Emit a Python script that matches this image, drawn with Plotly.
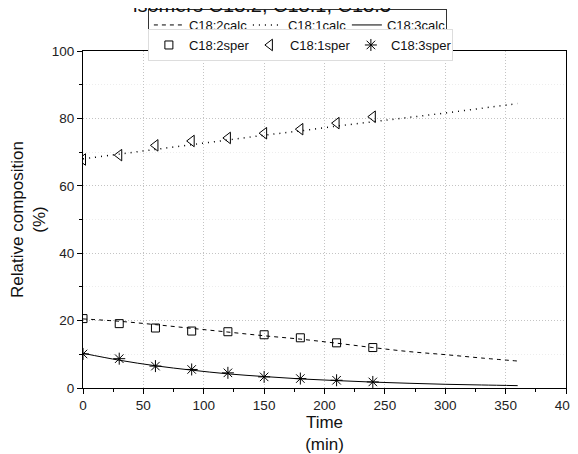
import plotly.graph_objects as go

# ---- data ----
t_exp = [0, 30, 60, 90, 120, 150, 180, 210, 240]
c182_exp = [20.6, 19.1, 17.8, 16.9, 16.7, 15.8, 14.9, 13.4, 12.0]
c181_exp = [67.8, 69.1, 72.0, 73.3, 74.2, 75.6, 76.8, 78.6, 80.5]
c183_exp = [10.1, 8.7, 6.5, 5.5, 4.5, 3.3, 2.8, 2.3, 1.8]

t_calc = [0, 30, 60, 90, 120, 150, 180, 210, 240, 270, 300, 330, 360]
c182_calc = [20.5, 19.8, 18.8, 17.7, 16.6, 15.5, 14.5, 13.3, 12.0, 10.8, 9.9, 8.9, 8.0]
c181_calc = [68.0, 69.4, 70.8, 72.2, 73.6, 75.0, 76.3, 77.7, 79.0, 80.3, 81.6, 83.0, 84.4]
c183_calc = [10.3, 8.25, 6.6, 5.3, 4.2, 3.4, 2.7, 2.2, 1.75, 1.4, 1.1, 0.9, 0.7]

x_ticks = [0, 50, 100, 150, 200, 250, 300, 350, 400]
y_ticks = [0, 20, 40, 60, 80, 100]

FONT = "Liberation Sans, Arial, sans-serif"

fig = go.Figure()

# calculated curves (legend 1)
fig.add_trace(go.Scatter(x=t_calc, y=c182_calc, mode="lines", name="C18:2calc",
                         line=dict(color="black", width=1, dash="4px,4px", shape="spline"),
                         legend="legend"))
fig.add_trace(go.Scatter(x=t_calc, y=c181_calc, mode="lines", name="C18:1calc",
                         line=dict(color="black", width=1.5, dash="1px,5px", shape="spline"),
                         legend="legend"))
fig.add_trace(go.Scatter(x=t_calc, y=c183_calc, mode="lines", name="C18:3calc",
                         line=dict(color="black", width=1, shape="spline"),
                         legend="legend"))

# experimental points (legend 2)
fig.add_trace(go.Scatter(x=t_exp, y=c182_exp, mode="markers", name="C18:2sper",
                         marker=dict(symbol="square-open", size=8, color="black",
                                     line=dict(width=1, color="black")),
                         legend="legend2"))
fig.add_trace(go.Scatter(x=t_exp, y=c181_exp, mode="markers", name="C18:1sper",
                         marker=dict(symbol="triangle-left-open", size=10, color="black",
                                     line=dict(width=1, color="black")),
                         legend="legend2"))
fig.add_trace(go.Scatter(x=t_exp, y=c183_exp, mode="markers", name="C18:3sper",
                         marker=dict(symbol="asterisk-open", size=10, color="black",
                                     line=dict(width=1, color="black")),
                         legend="legend2"))

axis_common = dict(
    showline=True, linecolor="black", linewidth=1, mirror=True,
    ticks="outside", ticklen=5, tickwidth=1, tickcolor="black",
    showgrid=True, gridcolor="#c4c4c4", griddash="1px,2px", gridwidth=1,
    zeroline=False, automargin=False,
    tickfont=dict(family=FONT, size=13.5, color="#222"),
)

fig.update_xaxes(range=[0, 400], tickvals=x_ticks,
                 minor=dict(ticks="outside", ticklen=3, tickcolor="black", dtick=25, tick0=0,
                            showgrid=False),
                 title=dict(text="Time<br>(min)", font=dict(family=FONT, size=17, color="#111"),
                            standoff=2),
                 **axis_common)
fig.update_yaxes(range=[0, 100], tickvals=y_ticks,
                 minor=dict(ticks="outside", ticklen=3, tickcolor="black", dtick=10, tick0=0,
                            showgrid=True, gridcolor="#ededed", griddash="1px,2px"),
                 title=dict(text="Relative composition<br>(%)",
                            font=dict(family=FONT, size=17, color="#111"), standoff=3),
                 **axis_common)

fig.update_layout(
    width=578, height=454,
    margin=dict(l=75, r=20, t=43, b=74, autoexpand=False),
    paper_bgcolor="white", plot_bgcolor="white",
    font=dict(family=FONT, size=12, color="#111"),
    showlegend=True,
    legend=dict(orientation="h", xref="container", yref="container",
                x=0.242, y=0.9978, xanchor="left", yanchor="top",
                bgcolor="white", bordercolor="#333", borderwidth=1,
                font=dict(family=FONT, size=13, color="#111"),
                itemwidth=30, entrywidth=54, entrywidthmode="pixels"),
    legend2=dict(orientation="h", xref="container", yref="container",
                 x=0.242, y=0.9537, xanchor="left", yanchor="top",
                 bgcolor="white", bordercolor="#dddddd", borderwidth=1,
                 font=dict(family=FONT, size=13, color="#111"),
                 itemwidth=30, entrywidth=56, entrywidthmode="pixels"),
    annotations=[dict(text="isomers C18:2, C18:1, C18:3", xref="paper", yref="paper",
                      x=0.371, y=1.097, xanchor="center", yanchor="bottom",
                      showarrow=False, font=dict(family=FONT, size=20, color="#111"))],
)

fig.write_html("out.html")
